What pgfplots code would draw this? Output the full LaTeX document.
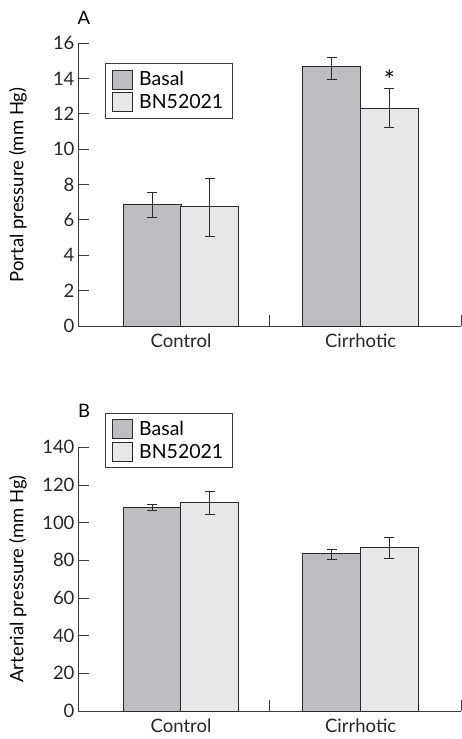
\documentclass[border=0pt]{standalone}
\usepackage{pgfplots}
\pgfplotsset{compat=1.18}
\usepackage{fontspec}
\setmainfont{Lato}
\newcommand{\fs}{\fontsize{18.5}{21}\selectfont}
\newcommand{\fl}{\fontsize{19.5}{22}\selectfont}
\definecolor{basal}{HTML}{BCBDC1}
\definecolor{bnc}{HTML}{E6E7E9}
\definecolor{edge}{HTML}{2A2A2A}
\definecolor{axc}{HTML}{3A3A3A}
\pgfplotsset{
  myaxis/.style={
    scale only axis, width=383pt,
    xmin=0, xmax=2, ymin=0,
    axis x line=bottom, axis y line=left,
    axis line style={axc, line width=0.9pt, -},
    tick align=inside, major tick length=11pt,
    tick style={axc, line width=0.9pt},
    xtick={0,1,2}, xticklabels={},
    extra x ticks={0.538,1.476},
    extra x tick labels={Control,Cirrhotic},
    extra x tick style={major tick length=0pt, tick style={draw=none}, xticklabel style={yshift=-4pt}},
    font=\fs,
    ticklabel style={font=\fs, text=black!85},
    /pgf/number format/assume math mode=true,
    legend cell align=left,
    legend style={draw=axc, line width=0.8pt, inner xsep=7pt, inner ysep=6pt,
      font=\fl, row sep=3pt,
      /tikz/every odd column/.append style={column sep=4pt}},
    legend image code/.code={\draw[#1, draw=edge, line width=0.8pt] (0pt,-9.5pt) rectangle (20pt,9.5pt);},
    error bars/y dir=both, error bars/y explicit,
    error bars/error mark options={rotate=90, mark size=5pt, line width=1pt, edge},
    error bars/error bar style={line width=1pt, edge},
  },
  mybar/.style={ybar, bar width=58pt, bar shift=0pt, draw=edge, line width=0.9pt, fill=#1},
}
\begin{document}
\begin{tikzpicture}
\path[use as bounding box] (0pt,0pt) rectangle (462pt,-739pt);
% Panel A
\begin{axis}[myaxis, at={(78pt,-326pt)}, anchor=south west, height=283pt, ymax=16,
  ytick={0,2,...,16},
  legend style={at={(0.0705,0.929)}, anchor=north west}]
\addplot[mybar=basal] coordinates {(0.387,6.86) +=(0,0.68) -=(0,0.72) (1.3255,14.66) +=(0,0.53) -=(0,0.70)};
\addlegendentry{Basal}
\addplot[mybar=bnc] coordinates {(0.6875,6.75) +=(0,1.58) -=(0,1.70) (1.626,12.30) +=(0,1.12) -=(0,1.05)};
\addlegendentry{BN52021}
\node[anchor=center, inner sep=0pt, font=\fontsize{26}{28}\selectfont] at (axis cs:1.626,13.95) {*};
\end{axis}
\node[anchor=center, font=\fs] at (84pt,-18pt) {A};
\node[rotate=90, anchor=center, font=\fs] at (18pt,-185pt) {Portal pressure (mm Hg)};
% Panel B
\begin{axis}[myaxis, at={(78pt,-711pt)}, anchor=south west, height=263.7pt, ymax=140,
  ytick={0,20,...,140},
  legend style={at={(0.0705,1.131)}, anchor=north west}]
\addplot[mybar=basal] coordinates {(0.387,108.1) +=(0,1.4) -=(0,1.8) (1.3255,83.4) +=(0,2.2) -=(0,2.7)};
\addlegendentry{Basal}
\addplot[mybar=bnc] coordinates {(0.6875,110.8) +=(0,5.5) -=(0,6.4) (1.626,86.7) +=(0,5.3) -=(0,5.6)};
\addlegendentry{BN52021}
\end{axis}
\node[anchor=center, font=\fs] at (84pt,-411pt) {B};
\node[rotate=90, anchor=center, font=\fs] at (18pt,-579pt) {Arterial pressure (mm Hg)};
\end{tikzpicture}
\end{document}
